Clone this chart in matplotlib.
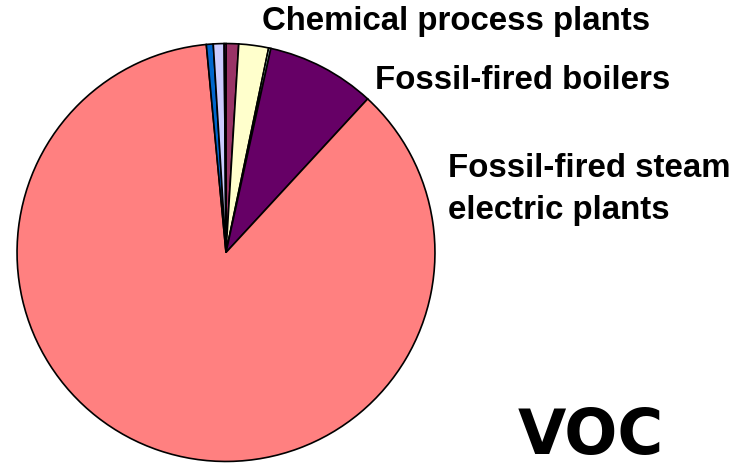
import matplotlib
matplotlib.use("Agg")
import matplotlib.pyplot as plt

# slices, clockwise from 12 o'clock (percent)
sources = ["Maroon", "Chemical process plants", "Cyan", "Fossil-fired boilers",
           "Fossil-fired steam electric plants", "Blue", "Lavender", "Magenta"]
shares = [0.97, 2.3, 0.17, 8.4, 86.5, 0.53, 0.83, 0.14]
colors = ["#993366", "#FFFFCC", "#CCFFFF", "#660066", "#FF8080",
          "#0066CC", "#CCCCFF", "#FF00FF"]

W, H = 736, 463
fig = plt.figure(figsize=(W / 100, H / 100), dpi=100)
ax = fig.add_axes([16 / W, 0.5 / H, 420 / W, 420 / H])
ax.pie(shares, colors=colors, startangle=90, counterclock=False,
       wedgeprops=dict(edgecolor="black", linewidth=1.2))
ax.set_xlim(-1.005, 1.005)
ax.set_ylim(-1.005, 1.005)
ax.set_aspect("equal")
ax.axis("off")


def label(x, y, s, size, family="Liberation Sans"):
    fig.text(x / W, (H - y) / H, s, fontsize=size, family=family,
             weight="bold", color="black", va="baseline")


label(262, 30, "Chemical process plants", 23.8)
label(375, 89, "Fossil-fired boilers", 23.8)
label(448, 177, "Fossil-fired steam", 23.8)
label(448, 219, "electric plants", 23.8)
label(518, 454, "VOC", 45, family="DejaVu Sans")

fig.savefig("out.png", dpi=100)
